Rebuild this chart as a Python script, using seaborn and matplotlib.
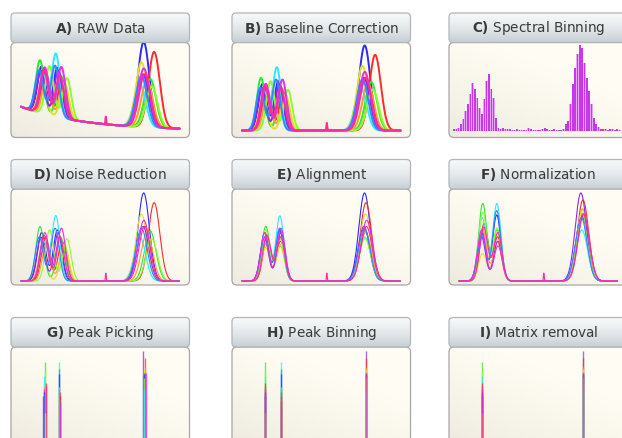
import numpy as np
import pandas as pd
import matplotlib
matplotlib.use("Agg")
import matplotlib.pyplot as plt
from matplotlib.patches import FancyBboxPatch
import seaborn as sns

sns.set_theme(style="white")
plt.rcParams["font.family"] = ["DejaVu Sans"]

# ---------------- data ----------------
sample_names = ["blue", "red", "green", "cyan", "orange", "yellow",
                "purple", "lime", "azure", "magenta", "pink"]
sample_colors = ["#2a2aff", "#ff2a2a", "#2ee82e", "#2ee8ff", "#ff9c2a", "#e0e02a",
                 "#8c2ae6", "#8cff2a", "#2a8cff", "#e62ee6", "#ff2aa0"]

# raw (unaligned) peak positions (m/z units, 0-100)
p1_raw = [13.0, 15.5, 12.0, 14.0, 16.0, 13.5, 12.5, 18.0, 11.5, 15.0, 14.5]
p2_raw = [23.0, 26.0, 25.0, 22.0, 27.0, 27.5, 23.5, 29.0, 21.5, 25.5, 24.5]
p3_raw = [77.4, 84.0, 81.5, 75.0, 79.5, 76.0, 77.0, 82.5, 76.0, 77.5, 78.0]
# raw peak heights
h1_raw = [0.55, 0.50, 0.62, 0.45, 0.42, 0.38, 0.50, 0.58, 0.50, 0.55, 0.52]
h2_raw = [0.58, 0.45, 0.50, 0.74, 0.40, 0.42, 0.55, 0.48, 0.60, 0.60, 0.50]
h3_raw = [1.00, 0.89, 0.57, 0.50, 0.55, 0.76, 0.62, 0.48, 0.60, 0.69, 0.62]
# aligned / picked peak positions
p1_pick = [14.3, 15.8, 15.0, 14.6, 14.8, 14.9, 14.2, 15.0, 14.4, 14.3, 15.6]
p2_pick = [23.8, 24.4, 24.0, 23.9, 24.2, 24.3, 24.5, 24.1, 23.8, 24.6, 24.5]
p3_pick = [77.3, 78.2, 77.8, 77.5, 78.0, 77.9, 76.9, 77.6, 77.2, 78.7, 78.5]
# normalized peak heights
h1_norm = [0.55, 0.65, 0.88, 0.72, 0.60, 0.31, 0.50, 0.78, 0.52, 0.58, 0.61]
h2_norm = [0.75, 0.50, 0.58, 0.88, 0.45, 0.45, 0.45, 0.60, 0.80, 0.40, 0.55]
h3_norm = [0.74, 0.92, 0.77, 0.58, 0.82, 0.80, 1.00, 0.70, 0.72, 0.76, 0.76]
peak_widths = [2.6, 2.6, 3.6]
spike_mz, spike_height = 53.5, 0.09
baseline_amp, baseline_decay = 0.28, 40.0

# binned peaks (H) and matrix-removed peaks (I)
bin_centers = [14.6, 24.3, 78.4]
matrix_kept = [0, 2]

# spectral binning (C): bar heights (pixels of an 86 px max)
c_bin_start, c_bin_width = -3.15, 1.47
c_heights_px = [1.7, 1.7, 2.3, 7, 12, 20, 27, 37, 48, 42, 33, 23, 17, 32, 50, 57, 42, 33, 13, 3, 1.7, 3,
                2, 1.5, 1.5, 1, 1, 2, 1, 0.8, 1, 1, 2.5, 2, 1, 1, 0.8, 1, 1.5, 2.5, 1.5, 1, 1, 1.5, 1, 0.8, 1, 1.5,
                7, 10, 27, 47, 63, 77, 86, 83, 68, 53, 40, 27, 13, 7, 4, 2,
                2, 1.5, 1, 2, 1.5, 1, 1.5, 1]

titles = [("A)", "RAW Data"), ("B)", "Baseline Correction"), ("C)", "Spectral Binning"),
          ("D)", "Noise Reduction"), ("E)", "Alignment"), ("F)", "Normalization"),
          ("G)", "Peak Picking"), ("H)", "Peak Binning"), ("I)", "Matrix removal")]

# ---------------- layout (pixels) ----------------
W, H = 622, 438
col_x = [11, 232, 449]
col_w = 178.5
head_y = [13, 159.5, 317.5]
head_h = 29.5
box_h = [95, 96, 97]
row_ylim = [(-0.082, 1.035), (-0.045, 1.045), (-0.033, 1.045)]
XLIM = (-6.3, 106.3)

fig = plt.figure(figsize=(W / 100, H / 100), dpi=100)
fig.patch.set_facecolor("white")
canvas = fig.add_axes([0, 0, 1, 1])
canvas.axis("off")


def rounded(x, y, w, h, r, **kw):
    p = FancyBboxPatch((x, y), w, h, boxstyle=f"round,pad=0,rounding_size={r}", **kw)
    canvas.add_patch(p)
    return p


light = np.array([255, 253, 243]) / 255
dark = np.array([233, 229, 219]) / 255
gx, gy = np.meshgrid(np.linspace(0, 1, 60), np.linspace(0, 1, 60))
t = np.clip(0.55 * gx + 0.75 * (1 - gy) + 0.15, 0, 1) ** 0.8
box_grad = dark + (light - dark) * t[..., None]

htop = np.array([246, 248, 249]) / 255
hbot = np.array([200, 208, 213]) / 255
hv = np.linspace(0, 1, 40)[:, None, None] ** 1.4
head_grad = np.repeat(htop + (hbot - htop) * hv, 4, axis=1)

mz = np.linspace(0, 100, 1001)


def gauss(c, h, w):
    return h * np.exp(-0.5 * ((mz - c) / w) ** 2)


def spectra_df(p1, p2, p3, h1, h2, h3, baseline=False, spike=True):
    frames = []
    for i, name in enumerate(sample_names):
        y = gauss(p1[i], h1[i], peak_widths[0]) + gauss(p2[i], h2[i], peak_widths[1]) + \
            gauss(p3[i], h3[i], peak_widths[2])
        if baseline:
            y = y + baseline_amp * np.exp(-mz / baseline_decay)
        if spike and name == "pink":
            y = y + gauss(spike_mz, spike_height, 0.25)
        frames.append(pd.DataFrame({"mz": mz, "intensity": y, "sample": name}))
    return pd.concat(frames, ignore_index=True)


palette = dict(zip(sample_names, sample_colors))

for idx, (letter, label) in enumerate(titles):
    r, c = divmod(idx, 3)
    x0 = col_x[c]
    y0 = head_y[r] + head_h
    bh = box_h[r]
    # plot box
    bp = rounded(x0, y0, col_w, bh, 5, facecolor="none", edgecolor="none", zorder=1)
    im = canvas.imshow(box_grad, extent=(x0, x0 + col_w, y0 + bh, y0), origin="upper",
                       aspect="auto", interpolation="bilinear", zorder=1)
    im.set_clip_path(bp)
    rounded(x0, y0, col_w, bh, 5, facecolor="none", edgecolor="#aaa5a5", lw=0.9, zorder=2)
    # header
    hp = rounded(x0, head_y[r], col_w, head_h, 4, facecolor="none", edgecolor="none", zorder=3)
    im2 = canvas.imshow(head_grad, extent=(x0, x0 + col_w, head_y[r] + head_h, head_y[r]),
                        origin="upper", aspect="auto", interpolation="bilinear", zorder=3)
    im2.set_clip_path(hp)
    rounded(x0, head_y[r], col_w, head_h, 4, facecolor="none", edgecolor="#b2b6b8", lw=0.9, zorder=4)
    canvas.text(x0 + col_w / 2, head_y[r] + head_h / 2 + 0.5,
                r"$\mathbf{" + letter + "}$ " + label, ha="center", va="center",
                fontsize=9.8, color="#3a3a3a", zorder=5)

    # data axes
    ax = fig.add_axes([x0 / W, 1 - (y0 + bh) / H, col_w / W, bh / H])
    ax.set_xlim(*XLIM)
    ax.set_ylim(*row_ylim[r])
    ax.axis("off")
    ax.patch.set_alpha(0)

    if idx in (0, 1, 3):
        df = spectra_df(p1_raw, p2_raw, p3_raw, h1_raw, h2_raw, h3_raw, baseline=(idx == 0))
        lw = 1.4 if idx in (0, 1) else 0.8
        sns.lineplot(data=df, x="mz", y="intensity", hue="sample", palette=palette,
                     estimator=None, legend=False, linewidth=lw, ax=ax)
    elif idx in (4, 5):
        if idx == 4:
            df = spectra_df(p1_pick, p2_pick, p3_pick, h1_raw, h2_raw, h3_raw)
        else:
            df = spectra_df(p1_pick, p2_pick, p3_pick, h1_norm, h2_norm, h3_norm)
        sns.lineplot(data=df, x="mz", y="intensity", hue="sample", palette=palette,
                     estimator=None, legend=False, linewidth=0.8, ax=ax)
    elif idx == 2:
        centers = c_bin_start + c_bin_width * np.arange(len(c_heights_px))
        vals = np.array(c_heights_px) / 86.0
        ax.bar(centers, vals, width=c_bin_width, color="#e9a4f6", linewidth=0)
        ax.bar(centers, vals, width=c_bin_width * 0.62, color="#c53ae6", linewidth=0)
    else:
        picks = [p1_pick, p2_pick, p3_pick]
        norms = [h1_norm, h2_norm, h3_norm]
        peaks = [0, 1, 2] if idx in (6, 7) else matrix_kept
        for k in peaks:
            order = sorted(range(len(sample_names)), key=lambda i: -norms[k][i])
            if idx != 6:
                order = [i for i in order if sample_names[i] != "pink"] + [sample_names.index("pink")]
            for i in order:
                xpos = picks[k][i] if idx == 6 else bin_centers[k]
                ax.vlines(xpos, 0, norms[k][i], color=sample_colors[i],
                          alpha=0.75 if idx == 6 else 0.7, lw=1.0)
    ax.set_xlim(*XLIM)
    ax.set_ylim(*row_ylim[r])

canvas.set_xlim(0, W)
canvas.set_ylim(H, 0)
fig.savefig("out.png", dpi=100)
